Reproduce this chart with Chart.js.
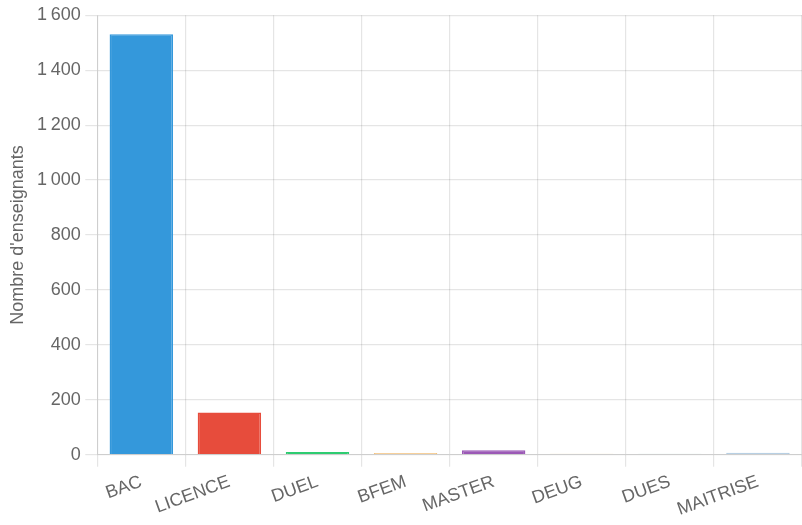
<!DOCTYPE html>
<html>
<head>
<meta charset="utf-8">
<script src="https://cdn.jsdelivr.net/npm/chart.js@4/dist/chart.umd.min.js"></script>
<style>
  html, body { margin: 0; padding: 0; background: #fff; }
</style>
</head>
<body>
<canvas id="bar-chart" width="802" height="525"></canvas>
<script>
const diplomes = ["BAC", "LICENCE", "DUEL", "BFEM", "MASTER", "DEUG", "DUES", "MAITRISE"];
const enseignants = [1531, 153, 10, 6, 16, 3, 3, 7];
const couleurs = ["#3498db", "#e74c3c", "#2ecc71", "#f5c27a", "#9b59b6", "#eed27a", "#a8dccd", "#a9c6de"];

Chart.defaults.font.family = "'Liberation Sans', Arial, sans-serif";
Chart.defaults.font.size = 18;
Chart.defaults.color = "#666";

const ctx = document.getElementById("bar-chart");

new Chart(ctx, {
    type: "bar",
    data: {
        labels: diplomes,
        datasets: [
            {
                label: "Nombre d'enseignants",
                data: enseignants,
                backgroundColor: couleurs,
                borderColor: couleurs,
                borderWidth: 1.5,
            },
        ],
    },
    options: {
        responsive: false,
        animation: false,
        locale: "fr-FR",
        layout: { padding: { top: 2, left: 3 } },
        plugins: {
            legend: { display: false },
        },
        scales: {
            x: {
                grid: { tickLength: 12, lineWidth: 1.2 },
                ticks: { maxRotation: 20, minRotation: 20, padding: 4.5 },
            },
            y: {
                beginAtZero: true,
                max: 1600,
                grid: { tickLength: 12, lineWidth: 1.2 },
                ticks: { stepSize: 200, padding: 4.5 },
                title: {
                    display: true,
                    text: "Nombre d'enseignants",
                },
            },
        },
    },
});
</script>
</body>
</html>
